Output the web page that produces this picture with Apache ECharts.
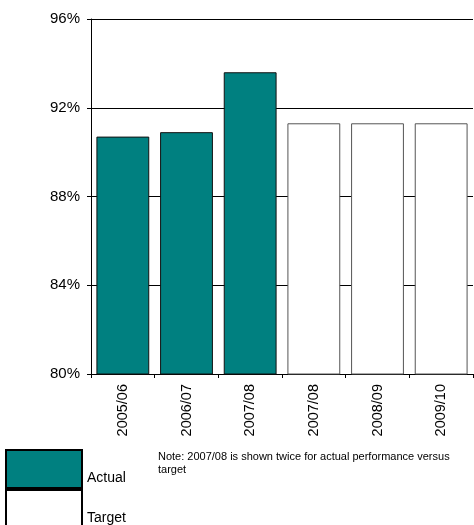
<!DOCTYPE html>
<html>
<head>
<meta charset="utf-8">
<script src="https://cdn.jsdelivr.net/npm/echarts@6/dist/echarts.min.js"></script>
<style>html,body{margin:0;padding:0;background:#fff}#c{width:474px;height:525px}</style>
</head>
<body>
<div id="c"></div>
<script>
var categories = ['2005/06', '2006/07', '2007/08', '2007/08', '2008/09', '2009/10'];
var actualValues = [90.7, 90.9, 93.6, '-', '-', '-'];
var targetValues = ['-', '-', '-', 91.3, 91.3, 91.3];
var yTicks = { min: 80, max: 96, interval: 4 };
var noteText = 'Note: 2007/08 is shown twice for actual performance versus\ntarget';

var chart = echarts.init(document.getElementById('c'), null, { renderer: 'canvas' });
var font = 'Liberation Sans, Arial, sans-serif';
chart.setOption({
  animation: false,
  backgroundColor: '#fff',
  grid: { left: 91, right: 1, top: 19, bottom: 151, containLabel: false },
  title: {
    text: noteText,
    left: 153, top: 445,
    padding: 5,
    textStyle: { fontFamily: font, fontSize: 11, fontWeight: 'normal', color: '#000', lineHeight: 13 }
  },
  legend: {
    orient: 'vertical',
    left: 5, top: 449,
    height: 80,
    padding: 0,
    itemGap: 0,
    itemWidth: 76, itemHeight: 38,
    data: ['Actual', 'Target'],
    formatter: function (name) { return '\n' + name; },
    itemStyle: { borderColor: '#000', borderWidth: 2 },
    textStyle: { fontFamily: font, fontSize: 14, color: '#000', lineHeight: 19 },
    icon: 'rect'
  },
  xAxis: {
    type: 'category',
    data: categories,
    axisLine: { show: true, lineStyle: { color: '#000', width: 1 } },
    axisTick: { show: true, length: 4, alignWithLabel: false, lineStyle: { color: '#000' } },
    axisLabel: { rotate: 90, margin: 10, fontFamily: font, fontSize: 14.5, color: '#000' },
    splitLine: { show: false }
  },
  yAxis: {
    type: 'value',
    min: yTicks.min, max: yTicks.max, interval: yTicks.interval,
    axisLine: { show: true, lineStyle: { color: '#000', width: 1 } },
    axisTick: { show: true, length: 4, lineStyle: { color: '#000' } },
    axisLabel: { formatter: '{value}%', margin: 11, fontFamily: font, fontSize: 15, color: '#000' },
    splitLine: { show: true, lineStyle: { color: '#000', width: 1 } }
  },
  series: [
    {
      name: 'Actual', type: 'bar', data: actualValues,
      barWidth: '83%', barGap: '-100%',
      itemStyle: { color: '#008080', borderColor: '#111', borderWidth: 1 }
    },
    {
      name: 'Target', type: 'bar', data: targetValues,
      barWidth: '83%', barGap: '-100%',
      itemStyle: { color: '#ffffff', borderColor: '#555', borderWidth: 1 }
    }
  ]
});
</script>
</body>
</html>
